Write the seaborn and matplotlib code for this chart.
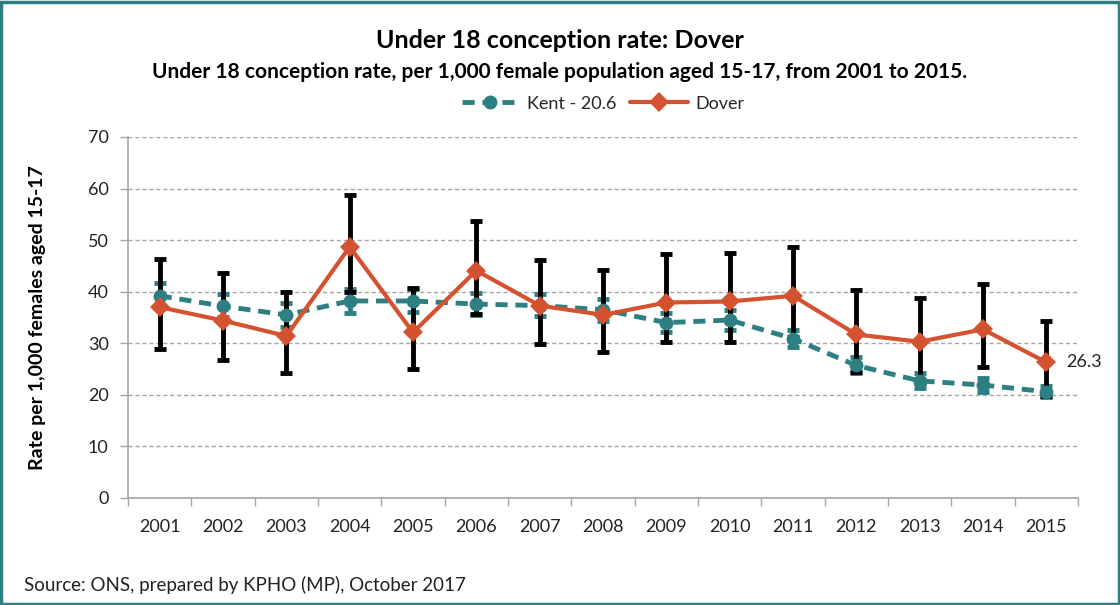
import matplotlib
matplotlib.use("Agg")
import matplotlib.pyplot as plt
import seaborn as sns
import pandas as pd
from matplotlib.patches import Rectangle

years = ["2001", "2002", "2003", "2004", "2005", "2006", "2007", "2008",
         "2009", "2010", "2011", "2012", "2013", "2014", "2015"]
kent = [39.2, 37.2, 35.5, 38.2, 38.2, 37.6, 37.3, 36.5, 34.0, 34.5, 30.9, 25.7, 22.7, 21.9, 20.6]
kent_low = [36.9, 35.0, 33.2, 35.9, 36.0, 35.5, 35.2, 34.4, 32.2, 32.6, 29.3, 24.2, 21.3, 20.6, 19.5]
kent_high = [41.6, 39.5, 37.9, 40.5, 40.5, 39.8, 39.5, 38.6, 35.9, 36.4, 32.6, 27.3, 24.2, 23.3, 21.8]
dover = [37.0, 34.4, 31.4, 48.7, 32.1, 44.1, 37.3, 35.5, 37.9, 38.1, 39.2, 31.7, 30.3, 32.7, 26.3]
dover_low = [28.9, 26.8, 24.2, 39.9, 25.1, 35.7, 29.9, 28.4, 30.2, 30.2, 31.2, 24.5, 22.3, 25.3, 19.7]
dover_high = [46.4, 43.6, 39.9, 58.8, 40.7, 53.8, 46.2, 44.2, 47.3, 47.5, 48.6, 40.3, 38.8, 41.4, 34.3]

TEAL = "#2E7F82"
ORANGE = "#D4522F"

sns.set_theme(style="white")
plt.rcParams["font.family"] = ["Lato", "DejaVu Sans"]

df = pd.DataFrame({"year": years, "Kent": kent, "Dover": dover})

fig = plt.figure(figsize=(11.2, 6.05), dpi=100)
ax = fig.add_axes([0.1143, 0.1769, 0.8482, 0.5967])

# Error bars
kerr = [[k - l for k, l in zip(kent, kent_low)], [h - k for k, h in zip(kent, kent_high)]]
derr = [[d - l for d, l in zip(dover, dover_low)], [h - d for d, h in zip(dover, dover_high)]]
ax.errorbar(years, kent, yerr=kerr, fmt="none", ecolor=TEAL, elinewidth=3.5,
            capsize=4, capthick=3.5, zorder=2)
ax.errorbar(years, dover, yerr=derr, fmt="none", ecolor="black", elinewidth=3.5,
            capsize=4.5, capthick=3.5, zorder=3)

sns.lineplot(data=df, x="year", y="Kent", ax=ax, color=TEAL, linewidth=3.5,
             linestyle=(0, (2.5, 1.6)), marker="o", markersize=10,
             markeredgewidth=0, label="Kent - 20.6", sort=False, zorder=4)
sns.lineplot(data=df, x="year", y="Dover", ax=ax, color=ORANGE, linewidth=3,
             marker="D", markersize=10, markeredgewidth=0, label="Dover",
             sort=False, zorder=5)

ax.annotate(f"{dover[-1]:.1f}", xy=(years[-1], dover[-1]), xytext=(14, 0),
            textcoords="offset points", va="center", ha="left", fontsize=13,
            color="#222222")

ax.set_xlim(-0.5, len(years) - 0.5)
ax.set_ylim(0, 70)
ax.set_yticks(range(0, 71, 10))
ax.yaxis.grid(True, color="#A6A6A6", linestyle=(0, (3, 2)), linewidth=1)
ax.xaxis.grid(False)
ax.set_xlabel("")
ax.set_ylabel("Rate per 1,000 females aged 15-17", fontsize=14,
              fontweight="bold", color="black", labelpad=30)

for s in ["top", "right"]:
    ax.spines[s].set_visible(False)
for s in ["left", "bottom"]:
    ax.spines[s].set_color("#A6A6A6")
    ax.spines[s].set_linewidth(1.2)

ax.tick_params(axis="y", length=6, width=1, color="#A6A6A6", labelsize=13,
               labelcolor="#222222", left=True, pad=8)
ax.tick_params(axis="x", length=0, labelsize=13, labelcolor="#222222", pad=15)
ax.set_xticks(range(len(years)))
ax.set_xticklabels(years)
ax.set_xticks([i - 0.5 for i in range(len(years) + 1)], minor=True)
ax.tick_params(axis="x", which="minor", length=6, width=1, color="#A6A6A6", bottom=True)

leg = ax.legend(loc="center", bbox_to_anchor=(0.5, 1.092), ncol=2,
                frameon=False, fontsize=13, handlelength=3.2, columnspacing=0.8,
                handletextpad=0.4, borderaxespad=0)

fig.text(0.5, 0.933, "Under 18 conception rate: Dover", ha="center", va="center",
         fontsize=18, fontweight="bold", color="black")
fig.text(0.5, 0.881, "Under 18 conception rate, per 1,000 female population aged 15-17, from 2001 to 2015.",
         ha="center", va="center", fontsize=15, fontweight="bold", color="black")
fig.text(0.021, 0.033, "Source: ONS, prepared by KPHO (MP), October 2017", ha="left",
         va="center", fontsize=13.5, color="#222222")

fig.patches.append(Rectangle((0.001, 0.002), 0.998, 0.994, transform=fig.transFigure,
                             fill=False, edgecolor=TEAL, linewidth=2.5))

fig.savefig("out.png", dpi=100)
